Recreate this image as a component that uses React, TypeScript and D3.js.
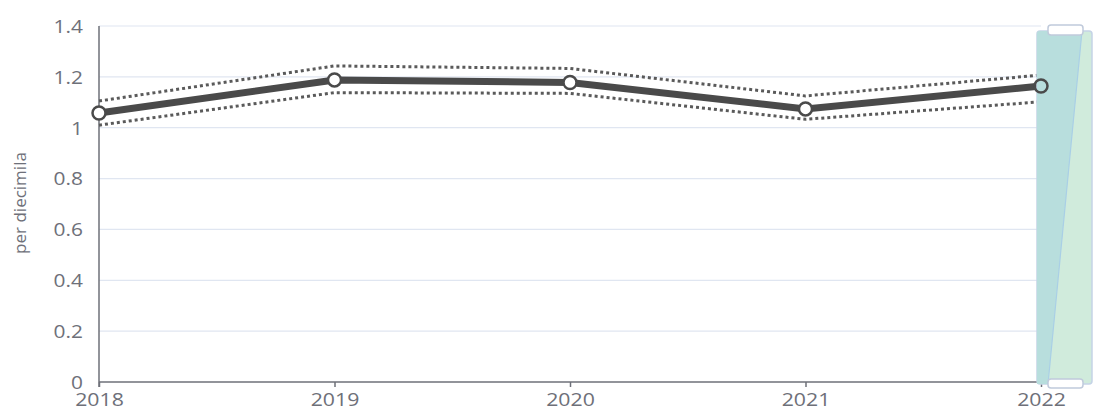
import React, { useRef, useEffect } from 'react';
import * as d3 from 'd3';

const years = ['2018', '2019', '2020', '2021', '2022'];
const rate = [1.058, 1.188, 1.178, 1.074, 1.164];
const upper = [1.105, 1.243, 1.233, 1.125, 1.207];
const lower = [1.01, 1.138, 1.135, 1.033, 1.102];
const yTicks = [0, 0.2, 0.4, 0.6, 0.8, 1, 1.2, 1.4];

const W = 1093;
const H = 412;

const App = () => {
  const ref = useRef(null);
  const margin = { top: 26, bottom: 30, left: 99, right: 52 };

  useEffect(() => {
    const svg = d3.select(ref.current);
    svg.selectAll('*').remove();

    const x = d3.scalePoint()
      .domain(years)
      .range([margin.left, W - margin.right]);
    const y = d3.scaleLinear()
      .domain([0, 1.4])
      .range([H - margin.bottom, margin.top]);

    const font = '"Open Sans", "Noto Sans", sans-serif';
    const labelColor = '#6e7079';

    // grid lines
    svg.append('g')
      .selectAll('line')
      .data(yTicks.slice(1))
      .join('line')
      .attr('x1', margin.left)
      .attr('x2', W - margin.right)
      .attr('y1', d => y(d))
      .attr('y2', d => y(d))
      .attr('stroke', '#e0e6f1')
      .attr('stroke-width', 1.2);

    // y labels
    svg.append('g')
      .selectAll('text')
      .data(yTicks)
      .join('text')
      .attr('transform', d => `translate(${margin.left - 16},${y(d)}) scale(1.1,1)`)
      .attr('dy', '0.36em')
      .attr('text-anchor', 'end')
      .attr('font-family', font)
      .attr('font-size', 19)
      .attr('fill', labelColor)
      .text(d => d3.format('~g')(d));

    // y axis line
    svg.append('line')
      .attr('x1', margin.left).attr('x2', margin.left)
      .attr('y1', y(1.4)).attr('y2', y(0) + 5)
      .attr('stroke', labelColor).attr('stroke-width', 1.5);

    // x axis
    svg.append('g')
      .attr('transform', `translate(0,${y(0)})`)
      .call(d3.axisBottom(x).tickSize(5).tickPadding(6))
      .call(g => g.select('.domain').attr('stroke', labelColor).attr('stroke-width', 1.5)
        .attr('d', `M${margin.left},0H${W - margin.right}`))
      .call(g => g.selectAll('.tick line').attr('stroke', labelColor).attr('stroke-width', 1.5))
      .call(g => g.selectAll('.tick text')
        .attr('transform', 'scale(1.12,1)')
        .attr('font-family', font)
        .attr('font-size', 19)
        .attr('fill', labelColor));

    // y axis title
    svg.append('text')
      .attr('transform', `translate(26,${(y(0) + y(1.4)) / 2 - 1}) rotate(-90)`)
      .attr('text-anchor', 'middle')
      .attr('font-family', font)
      .attr('font-size', 17)
      .attr('fill', labelColor)
      .text('per diecimila');

    const line = (vals) => d3.line()
      .x((d, i) => x(years[i]))
      .y(d => y(d))(vals);

    // confidence bounds
    [upper, lower].forEach(vals => {
      svg.append('path')
        .attr('d', line(vals))
        .attr('fill', 'none')
        .attr('stroke', '#5a5a5a')
        .attr('stroke-width', 3)
        .attr('stroke-dasharray', '3 3');
    });

    svg.append('path')
      .attr('d', line(rate))
      .attr('fill', 'none')
      .attr('stroke', '#4a4a4a')
      .attr('stroke-width', 7);

    // zoom slider on the right
    const sx0 = 1037, sx1 = 1092, sTop = 31, sBot = 384;
    const slider = svg.append('g');
    slider.append('rect')
      .attr('x', sx0).attr('y', sTop)
      .attr('width', sx1 - sx0).attr('height', sBot - sTop)
      .attr('rx', 3)
      .attr('fill', '#d0ebdc')
      .attr('stroke', '#c5d3e6').attr('stroke-width', 1.5);
    slider.append('path')
      .attr('d', `M${sx0},${sTop + 3}Q${sx0},${sTop} ${sx0 + 3},${sTop}L1082,${sTop}L1048,${sBot}L${sx0},${sBot}Z`)
      .attr('fill', '#b8dedd');
    slider.append('line')
      .attr('x1', 1048).attr('y1', sBot)
      .attr('x2', 1082).attr('y2', sTop)
      .attr('stroke', '#a9cfe6').attr('stroke-width', 1.2);
    [[25, 10], [379, 9]].forEach(([hy, hh]) => {
      slider.append('rect')
        .attr('x', 1048).attr('y', hy)
        .attr('width', 35).attr('height', hh)
        .attr('rx', 3)
        .attr('fill', '#fff')
        .attr('stroke', '#c0cadb').attr('stroke-width', 1.5);
    });

    // points (the last one sits over the slider, showing it through)
    svg.append('g')
      .selectAll('circle')
      .data(rate)
      .join('circle')
      .attr('cx', (d, i) => x(years[i]))
      .attr('cy', d => y(d))
      .attr('r', 6.5)
      .attr('fill', (d, i) => (x(years[i]) >= sx0 ? 'none' : '#fff'))
      .attr('stroke', '#4a4a4a')
      .attr('stroke-width', 2.5);
  }, []);

  return (
    <svg ref={ref} width={W} height={H} style={{ position: 'absolute', left: 0, top: 0 }}></svg>
  );
};

export default App;
